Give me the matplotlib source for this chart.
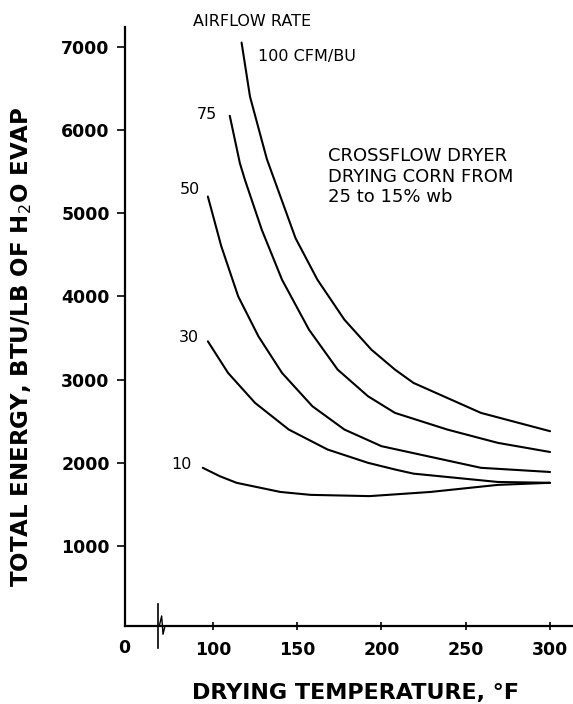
import matplotlib

matplotlib.use("Agg")
import matplotlib.pyplot as plt

# airflow curves (temperature in F, energy in BTU/lb H2O)
temps_100 = [117, 122, 132, 149, 162, 178, 194, 208, 219, 259, 300]
energy_100 = [7050, 6400, 5650, 4700, 4200, 3720, 3360, 3120, 2960, 2600, 2380]
temps_75 = [110, 116, 119, 129, 141, 157, 174, 192, 208, 239, 269, 300]
energy_75 = [6170, 5600, 5400, 4800, 4200, 3600, 3120, 2800, 2600, 2400, 2240, 2130]
temps_50 = [97, 105, 115, 127, 141, 159, 178, 200, 259, 300]
energy_50 = [5200, 4600, 4000, 3520, 3080, 2680, 2400, 2200, 1940, 1890]
temps_30 = [97, 109, 125, 145, 168, 192, 208, 219, 269, 300]
energy_30 = [3460, 3080, 2720, 2400, 2160, 2000, 1920, 1870, 1770, 1760]
temps_10 = [94, 104, 114, 140, 158, 193, 229, 269, 300]
energy_10 = [1940, 1840, 1760, 1650, 1615, 1600, 1650, 1735, 1760]

curve_labels = ["100 CFM/BU", "75", "50", "30", "10"]
x_ticks = [100, 150, 200, 250, 300]
y_ticks = [1000, 2000, 3000, 4000, 5000, 6000, 7000]

BOLD = dict(fontfamily="DejaVu Sans", fontweight="bold")

fig = plt.figure(figsize=(5.73, 7.04), dpi=100)
ax = fig.add_axes([0.218, 0.111, 0.782, 0.851])

series = [
    (temps_100, energy_100),
    (temps_75, energy_75),
    (temps_50, energy_50),
    (temps_30, energy_30),
    (temps_10, energy_10),
]
for temps, energy in series:
    ax.plot(temps, energy, color="black", linewidth=1.5,
            solid_capstyle="round", solid_joinstyle="round")

ax.set_xlim(47.8, 313.6)
ax.set_ylim(41, 7240)

for side in ("top", "right"):
    ax.spines[side].set_visible(False)
for side in ("left", "bottom"):
    ax.spines[side].set_linewidth(1.6)

ax.set_xticks(x_ticks)
ax.set_xticklabels([str(t) for t in x_ticks], fontsize=12.5, **BOLD)
ax.set_yticks(y_ticks)
ax.set_yticklabels([str(t) for t in y_ticks], fontsize=12.5, **BOLD)
ax.tick_params(axis="x", direction="inout", length=6, width=1.2, pad=8)
ax.tick_params(axis="y", direction="out", length=6, width=1.2, pad=5)

# origin label and axis break
ax.text(47.3, -120, "0", ha="center", va="top", fontsize=12.5, **BOLD)
brk_x = 67.4
ax.plot([brk_x, brk_x], [300, -220], color="black", linewidth=1.2, clip_on=False)
ax.plot([brk_x + 0.8, brk_x + 2.2, brk_x + 3.0, brk_x + 4.2],
        [41, 160, -60, 41], color="black", linewidth=1.0, clip_on=False)

# curve labels
ax.text(123, 7300, "AIRFLOW RATE", fontsize=11.5, ha="center", va="center")
ax.text(126.7, 6880, curve_labels[0], fontsize=11.5, ha="left", va="center")
ax.text(96.6, 6180, curve_labels[1], fontsize=11.5, ha="center", va="center")
ax.text(86.3, 5280, curve_labels[2], fontsize=11.5, ha="center", va="center")
ax.text(85.8, 3510, curve_labels[3], fontsize=11.5, ha="center", va="center")
ax.text(81.6, 1976, curve_labels[4], fontsize=11.5, ha="center", va="center")

ax.text(168, 5440, "CROSSFLOW DRYER\nDRYING CORN FROM\n25 to 15% wb",
        fontsize=13, ha="left", va="center", linespacing=1.2)

fig.text(22 / 573, 1 - 347 / 704, "TOTAL ENERGY, BTU/LB OF H$_2$O EVAP",
         rotation=90, ha="center", va="center", fontsize=16.5, **BOLD)
fig.text(355 / 573, 1 - 693 / 704, "DRYING TEMPERATURE, °F",
         ha="center", va="center", fontsize=16, **BOLD)

fig.savefig("out.png", dpi=100)
